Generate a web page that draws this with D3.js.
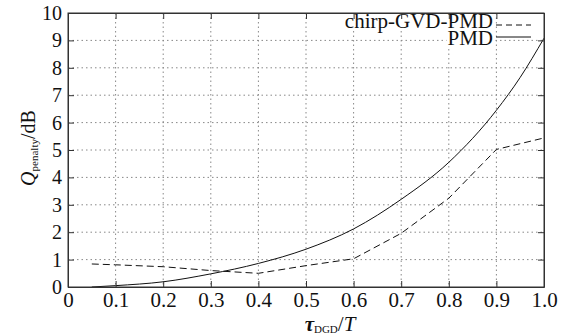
<!DOCTYPE html>
<html><head><meta charset="utf-8">
<script src="https://cdn.jsdelivr.net/npm/d3@7"></script>
<style>body{margin:0;background:#fff}svg{display:block}</style>
</head><body><svg id="c" width="567" height="336" font-family="'Liberation Serif', 'Times New Roman', serif"></svg>
<script>
const xTicks = [0,0.1,0.2,0.3,0.4,0.5,0.6,0.7,0.8,0.9,1.0];
const xTickLabels = ["0","0.1","0.2","0.3","0.4","0.5","0.6","0.7","0.8","0.9","1.0"];
const yTicks = [0,1,2,3,4,5,6,7,8,9,10];
const pmdX = [0.05,0.1,0.2,0.3,0.4,0.5,0.6,0.7,0.8,0.9,0.95,1.0];
const pmdY = [0,0.05,0.19,0.48,0.86,1.38,2.12,3.2,4.55,6.45,7.65,9.08];
const chirpX = [0.05,0.1,0.2,0.3,0.4,0.5,0.6,0.7,0.8,0.9,1.0];
const chirpY = [0.84,0.81,0.74,0.6,0.5,0.78,1.03,1.96,3.24,5.02,5.44];
const seriesNames = ["chirp-GVD-PMD","PMD"];

const FONT = "'Liberation Serif', 'Times New Roman', serif";
const svg = d3.select("#c");
const L=68,R=544,T=13,B=287;
const x = d3.scaleLinear().domain([0,1]).range([L,R]);
const y = d3.scaleLinear().domain([0,10]).range([B,T]);

// grid
const g = svg.append("g");
g.selectAll(".gx").data(xTicks.slice(1,-1)).enter().append("line")
 .attr("x1",d=>x(d)).attr("x2",d=>x(d)).attr("y1",T).attr("y2",B)
 .attr("stroke","#888").attr("stroke-width",1).attr("stroke-dasharray","1.5,3");
g.selectAll(".gy").data(yTicks.slice(1,-1)).enter().append("line")
 .attr("y1",d=>y(d)).attr("y2",d=>y(d)).attr("x1",L).attr("x2",R)
 .attr("stroke","#888").attr("stroke-width",1).attr("stroke-dasharray","1.5,3");

// lines
svg.append("path").datum(pmdX.map((v,i)=>[v,pmdY[i]]))
 .attr("d",d3.line().x(d=>x(d[0])).y(d=>y(d[1])).curve(d3.curveMonotoneX))
 .attr("fill","none").attr("stroke","#111").attr("stroke-width",1);
svg.append("path").datum(chirpX.map((v,i)=>[v,chirpY[i]]))
 .attr("d",d3.line().x(d=>x(d[0])).y(d=>y(d[1])))
 .attr("fill","none").attr("stroke","#111").attr("stroke-width",1).attr("stroke-dasharray","7,4");

// legend
const lg = svg.append("g").attr("font-family",FONT);
const rows=[{name:seriesNames[0],dash:"6,4",ty:28,ly:25},{name:seriesNames[1],dash:null,ty:45,ly:37}];
rows.forEach(r=>{
  const t = lg.append("text").attr("x",493).attr("y",r.ty).attr("text-anchor","end").attr("font-size",21).attr("fill","#111").text(r.name);
  const bb = t.node().getBBox();
  lg.insert("rect","text").attr("x",bb.x-1).attr("y",Math.max(bb.y+4,T+1)).attr("width",bb.width+2).attr("height",bb.height-7).attr("fill","#fff");
  lg.append("line").attr("x1",496).attr("x2",531).attr("y1",r.ly).attr("y2",r.ly).attr("stroke","#111").attr("stroke-width",1).attr("stroke-dasharray",r.dash);
});

// axes (inward ticks)
const ax = d3.axisBottom(x).tickValues(xTicks).tickFormat((d,i)=>xTickLabels[i]).tickSizeInner(-6).tickSizeOuter(0).tickPadding(5);
const axG = svg.append("g").attr("transform",`translate(0,${B})`).call(ax).attr("font-size",21);
const ay = d3.axisLeft(y).tickValues(yTicks).tickFormat(d3.format("d")).tickSizeInner(-6).tickSizeOuter(0).tickPadding(6);
const ayG = svg.append("g").attr("transform",`translate(${L},0)`).call(ay).attr("font-size",20);
const axT = svg.append("g").attr("transform",`translate(0,${T})`).call(d3.axisTop(x).tickValues(xTicks).tickFormat("").tickSizeInner(-6).tickSizeOuter(0));
const ayR = svg.append("g").attr("transform",`translate(${R},0)`).call(d3.axisRight(y).tickValues(yTicks).tickFormat("").tickSizeInner(-6).tickSizeOuter(0));
[axG,ayG,axT,ayR].forEach(a=>{
  a.attr("font-family",FONT);
  a.select(".domain").attr("stroke","#333");
  a.selectAll(".tick line").attr("stroke","#333");
  a.selectAll("text").attr("fill","#111");
});
svg.append("rect").attr("x",L).attr("y",T).attr("width",R-L).attr("height",B-T).attr("fill","none").attr("stroke","#333");

// axis titles
const xl = svg.append("text").attr("x",330).attr("y",331).attr("text-anchor","middle").attr("font-family",FONT).attr("font-size",21).attr("fill","#111");
xl.append("tspan").attr("font-style","italic").attr("font-weight","bold").text("τ");
xl.append("tspan").attr("dy",2).attr("font-size",11).text("DGD");
xl.append("tspan").attr("dy",-2).text("/");
xl.append("tspan").attr("font-style","italic").text("T");

const yl = svg.append("text").attr("transform","translate(35,148) rotate(-90)").attr("text-anchor","middle").attr("font-family",FONT).attr("font-size",20).attr("fill","#111");
yl.append("tspan").attr("font-style","italic").text("Q");
yl.append("tspan").attr("dy",3).attr("font-size",11).text("penalty");
yl.append("tspan").attr("dy",-3).text("/dB");
</script></body></html>
